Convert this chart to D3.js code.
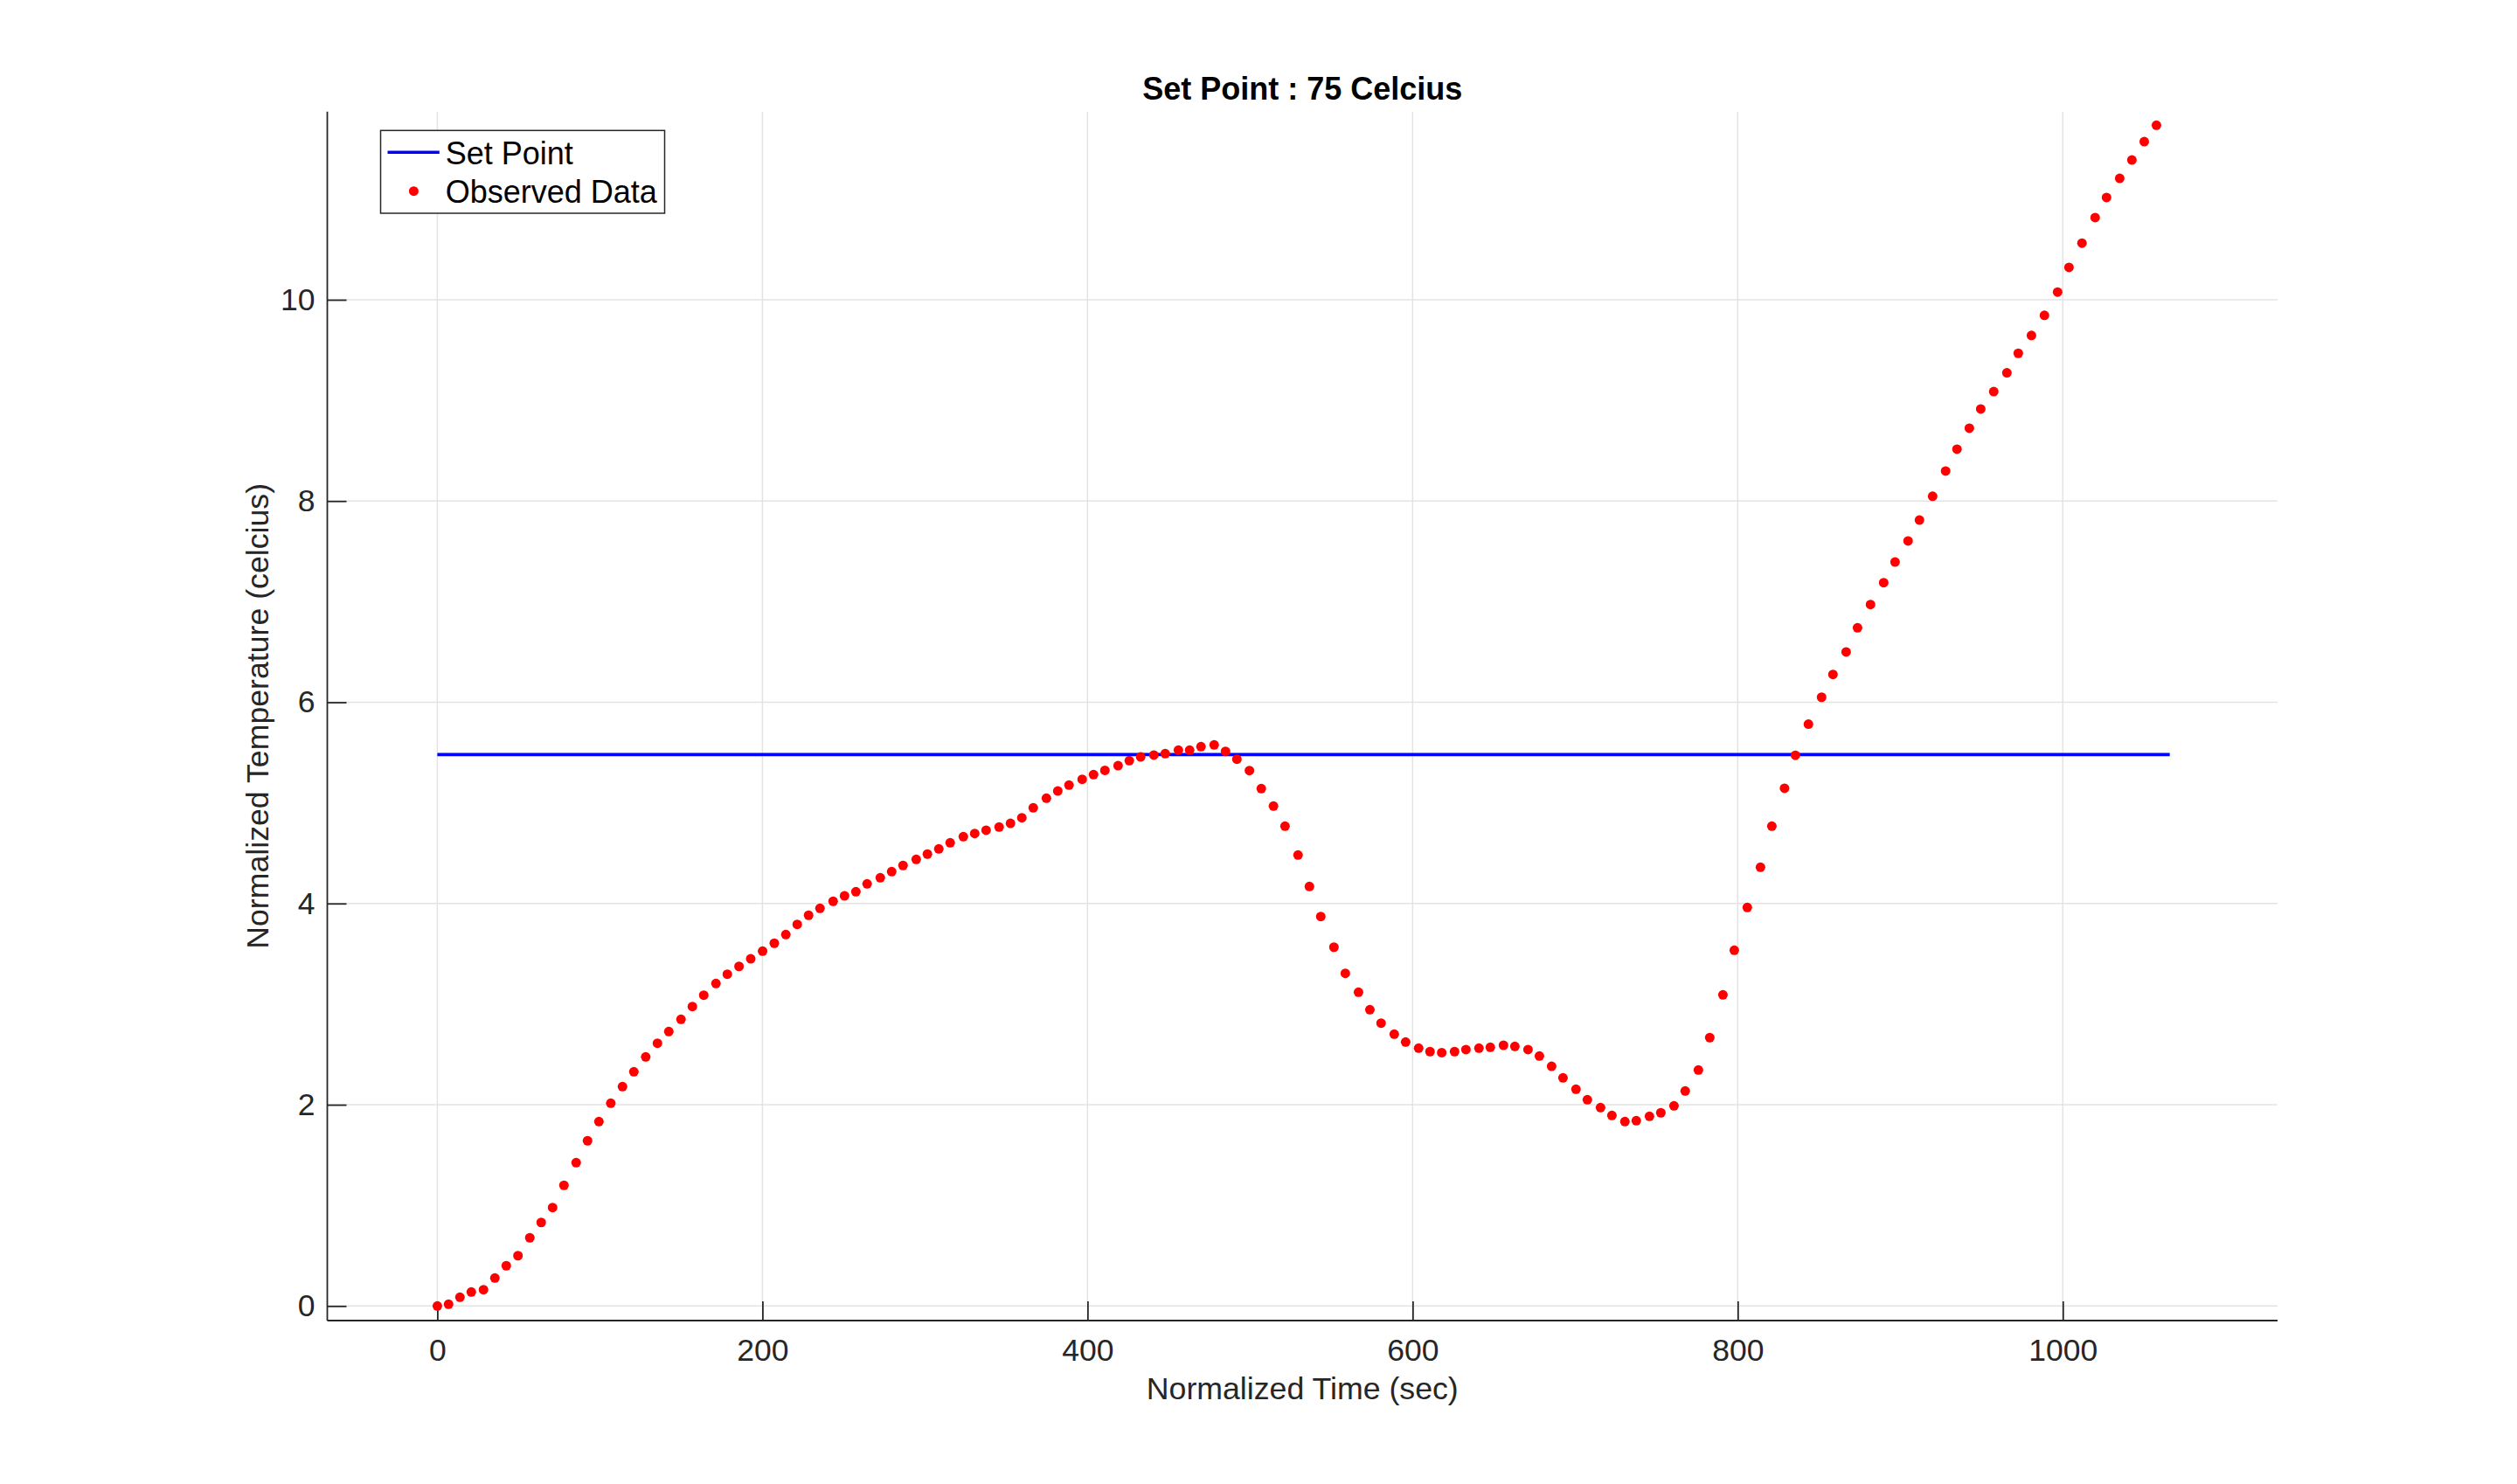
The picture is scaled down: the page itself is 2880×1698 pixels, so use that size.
<!DOCTYPE html>
<html>
<head>
<meta charset="utf-8">
<script src="https://cdn.jsdelivr.net/npm/d3@7/dist/d3.min.js"></script>
<style>
  html, body { margin: 0; padding: 0; background: #fff; }
  svg { display: block; font-family: "Liberation Sans", Arial, Helvetica, sans-serif; }
</style>
</head>
<body>
<svg id="chart" width="2880" height="1698"></svg>
<script>
// ---- data ----
const timeSec = [
  0, 6.9, 13.9, 20.9, 28.4, 35.4, 42.4, 49.6, 56.9, 63.9,
  70.9, 77.9, 85.4, 92.4, 99.4, 106.7, 113.9, 120.9, 128.2, 135.4,
  142.4, 149.9, 156.9, 163.9, 171.4, 178.4, 185.6, 192.8, 200.1, 207.3,
  214.4, 221.4, 228.4, 235.4, 243.5, 250.5, 257.5, 264.4, 272.5, 279.5,
  286.5, 294.6, 301.5, 308.5, 315.5, 323.6, 330.6, 337.6, 345.6, 352.6,
  359.6, 366.6, 374.7, 381.7, 388.6, 396.7, 403.7, 410.7, 418.8, 425.7,
  432.7, 440.8, 447.8, 455.9, 462.8, 469.8, 477.9, 484.9, 491.9, 499.6,
  506.9, 514.4, 521.5, 529.5, 536.5, 543.5, 551.6, 558.6, 566.7, 573.7,
  580.6, 588.7, 595.7, 603.7, 610.7, 617.9, 625.8, 632.8, 640.8, 647.8,
  655.9, 662.9, 671.0, 678.0, 685.5, 692.5, 700.5, 707.5, 715.6, 722.6,
  730.6, 737.6, 745.7, 752.7, 760.8, 767.7, 775.8, 782.8, 790.9, 797.9,
  805.9, 814.0, 821.0, 828.8, 835.5, 843.5, 851.6, 858.6, 866.7, 873.7,
  881.7, 889.8, 896.8, 904.8, 911.8, 919.9, 927.9, 934.9, 942.5, 949.5,
  957.5, 965.6, 972.6, 980.7, 988.7, 996.8, 1003.8, 1011.8, 1019.9, 1026.9,
  1035.0, 1042.5, 1050.1, 1057.6
];
const observedTemp = [
  0, 0.017, 0.087, 0.139, 0.162, 0.278, 0.40, 0.50, 0.678, 0.83,
  0.978, 1.199, 1.424, 1.642, 1.833, 2.015, 2.18, 2.328, 2.475, 2.611,
  2.727, 2.849, 2.976, 3.089, 3.205, 3.297, 3.375, 3.45, 3.526, 3.605,
  3.691, 3.792, 3.883, 3.952, 4.022, 4.076, 4.117, 4.195, 4.256, 4.317,
  4.378, 4.438, 4.491, 4.543, 4.603, 4.664, 4.696, 4.728, 4.760, 4.797,
  4.852, 4.951, 5.046, 5.118, 5.177, 5.234, 5.281, 5.323, 5.370, 5.420,
  5.457, 5.475, 5.489, 5.524, 5.524, 5.559, 5.576, 5.512, 5.434, 5.321,
  5.142, 4.968, 4.768, 4.482, 4.169, 3.871, 3.566, 3.306, 3.118, 2.944,
  2.811, 2.701, 2.623, 2.562, 2.528, 2.518, 2.528, 2.548, 2.562, 2.571,
  2.591, 2.580, 2.548, 2.484, 2.382, 2.267, 2.154, 2.050, 1.972, 1.893,
  1.833, 1.841, 1.885, 1.920, 1.989, 2.137, 2.345, 2.667, 3.092, 3.535,
  3.961, 4.360, 4.768, 5.145, 5.473, 5.782, 6.050, 6.277, 6.500, 6.740,
  6.971, 7.189, 7.394, 7.603, 7.811, 8.047, 8.298, 8.515, 8.724, 8.915,
  9.087, 9.274, 9.468, 9.645, 9.845, 10.077, 10.322, 10.563, 10.817, 11.017,
  11.207, 11.389, 11.571, 11.734
];
const setPointTime = [0, 1065.8];
const setPointTemp = [5.48, 5.48];
const xTicks = [0, 200, 400, 600, 800, 1000];
const yTicks = [0, 2, 4, 6, 8, 10];
const xDomain = [-67.7, 1132.1];
const yDomain = [-0.145, 11.87];
const titleText = "Set Point : 75 Celcius";
const xLabelText = "Normalized Time (sec)";
const yLabelText = "Normalized Temperature (celcius)";
const legendLabels = ["Set Point", "Observed Data"];

// ---- layout ----
const plot = { left: 374.5, right: 2606, top: 127.7, bottom: 1511 };
const axisColor = "#262626";
const gridColor = "#e3e3e3";
const tickLen = 22;

const svg = d3.select("#chart");
svg.append("rect").attr("width", 2880).attr("height", 1698).attr("fill", "#fff");

const x = d3.scaleLinear().domain(xDomain).range([plot.left, plot.right]);
const y = d3.scaleLinear().domain(yDomain).range([plot.bottom, plot.top]);

// grid
const grid = svg.append("g");
grid.selectAll("line.vg").data(xTicks).enter().append("line")
  .attr("x1", d => x(d)).attr("x2", d => x(d))
  .attr("y1", plot.top).attr("y2", plot.bottom)
  .attr("stroke", gridColor).attr("stroke-width", 1.5);
grid.selectAll("line.hg").data(yTicks).enter().append("line")
  .attr("y1", d => y(d)).attr("y2", d => y(d))
  .attr("x1", plot.left).attr("x2", plot.right)
  .attr("stroke", gridColor).attr("stroke-width", 1.5);

// axes
const fmt = d3.format("d");
const xAxis = d3.axisBottom(x).tickValues(xTicks).tickFormat(fmt).tickSizeInner(-tickLen).tickSizeOuter(0).tickPadding(20);
const yAxis = d3.axisLeft(y).tickValues(yTicks).tickFormat(fmt).tickSizeInner(-tickLen).tickSizeOuter(0).tickPadding(14);

const gx = svg.append("g").attr("transform", `translate(0,${plot.bottom})`).call(xAxis);
const gy = svg.append("g").attr("transform", `translate(${plot.left},0)`).call(yAxis);
[gx, gy].forEach(g => {
  g.select(".domain").remove();
  g.selectAll(".tick line").attr("stroke", axisColor).attr("stroke-width", 1.8);
  g.selectAll(".tick text").attr("fill", axisColor).attr("font-size", 35.5)
    .attr("font-family", "'Liberation Sans', Arial, Helvetica, sans-serif");
});
gx.selectAll(".tick text").attr("dy", "0.71em").attr("y", 21);
// axis lines (box off: left and bottom only)
svg.append("line").attr("x1", plot.left).attr("x2", plot.right)
  .attr("y1", plot.bottom).attr("y2", plot.bottom)
  .attr("stroke", axisColor).attr("stroke-width", 1.8);
svg.append("line").attr("x1", plot.left).attr("x2", plot.left)
  .attr("y1", plot.top).attr("y2", plot.bottom)
  .attr("stroke", axisColor).attr("stroke-width", 1.8);

// set point line
const line = d3.line().x(d => x(d[0])).y(d => y(d[1]));
svg.append("path")
  .datum(setPointTime.map((t, i) => [t, setPointTemp[i]]))
  .attr("d", line).attr("fill", "none").attr("stroke", "#0000ff").attr("stroke-width", 3.6);

// observed dots
svg.append("g").selectAll("circle").data(timeSec.map((t, i) => [t, observedTemp[i]]))
  .enter().append("circle")
  .attr("cx", d => x(d[0])).attr("cy", d => y(d[1])).attr("r", 5.5)
  .attr("fill", "#ff0000");

// title
svg.append("text").attr("x", (plot.left + plot.right) / 2).attr("y", 114)
  .attr("text-anchor", "middle").attr("font-size", 36).attr("font-weight", "bold")
  .attr("fill", "#000").text(titleText);

// x label
svg.append("text").attr("x", (plot.left + plot.right) / 2).attr("y", 1601)
  .attr("text-anchor", "middle").attr("font-size", 35.7).attr("fill", axisColor).text(xLabelText);

// y label
svg.append("text")
  .attr("transform", `translate(307,${(plot.top + plot.bottom) / 2}) rotate(-90)`)
  .attr("text-anchor", "middle").attr("font-size", 35.7).attr("fill", axisColor).text(yLabelText);

// legend
const lg = svg.append("g");
lg.append("rect").attr("x", 435.5).attr("y", 149.3).attr("width", 325).attr("height", 94.7)
  .attr("fill", "#fff").attr("stroke", axisColor).attr("stroke-width", 1.5);
lg.append("line").attr("x1", 443.5).attr("x2", 502.8).attr("y1", 174.3).attr("y2", 174.3)
  .attr("stroke", "#0000ff").attr("stroke-width", 3.6);
lg.append("circle").attr("cx", 473.4).attr("cy", 218.7).attr("r", 5.5).attr("fill", "#ff0000");
lg.append("text").attr("x", 509.7).attr("y", 188).attr("font-size", 36).attr("fill", "#000").text(legendLabels[0]);
lg.append("text").attr("x", 509.7).attr("y", 231.7).attr("font-size", 36).attr("fill", "#000").text(legendLabels[1]);
</script>
</body>
</html>
